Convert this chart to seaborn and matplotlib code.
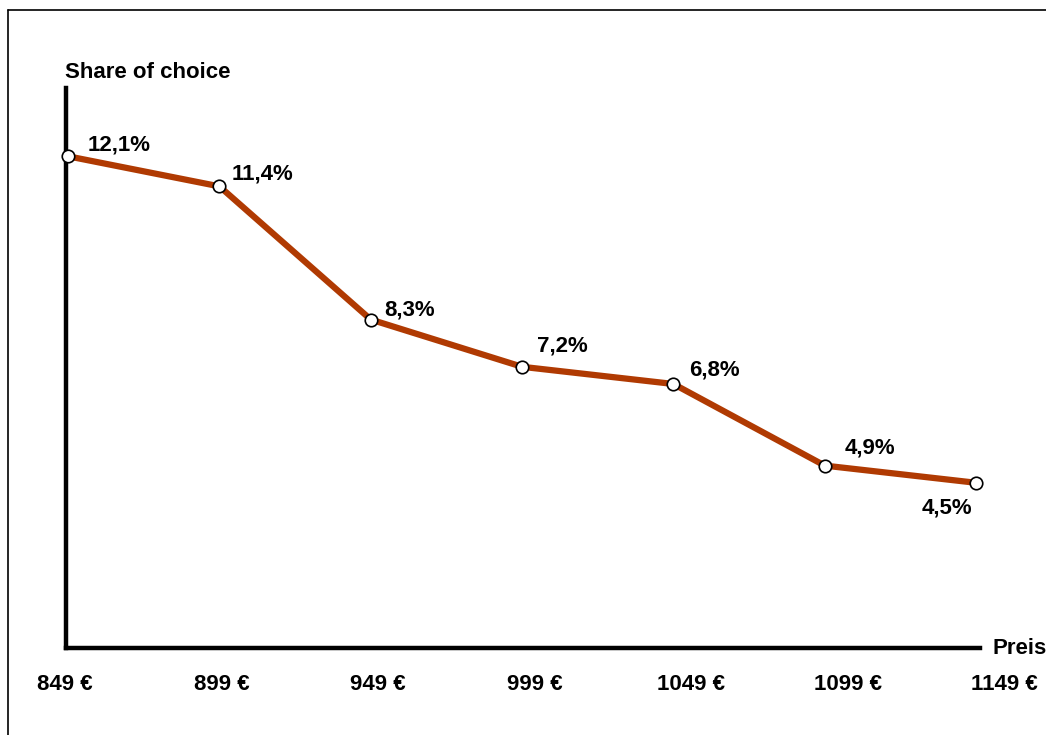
import matplotlib
matplotlib.use("Agg")
import matplotlib.pyplot as plt
from matplotlib.lines import Line2D
import seaborn as sns
import pandas as pd

# data
prices = [849, 899, 949, 999, 1049, 1099, 1149]
price_labels = ["849 €", "899 €", "949 €", "999 €", "1049 €", "1099 €", "1149 €"]
shares = [12.1, 11.4, 8.3, 7.2, 6.8, 4.9, 4.5]
share_labels = ["12,1%", "11,4%", "8,3%", "7,2%", "6,8%", "4,9%", "4,5%"]

LINE_COLOR = "#B03A02"
W, H = 1046, 735
FS = 16

sns.set_theme(style="white")
plt.rcParams["font.family"] = ["Liberation Sans", "DejaVu Sans"]
plt.rcParams["font.weight"] = "bold"
plt.rcParams["text.color"] = "black"
plt.rcParams["xtick.color"] = "black"

fig = plt.figure(figsize=(W / 100, H / 100), dpi=100)
# axes box in pixels: left 66, right 980, top 88, bottom 648
ax = fig.add_axes([66 / W, 1 - 648 / H, (980 - 66) / W, (648 - 88) / H])

df = pd.DataFrame({"price": prices, "share": shares})
sns.lineplot(data=df, x="price", y="share", ax=ax, color=LINE_COLOR, linewidth=4.5,
             marker="o", markersize=9, markerfacecolor="white",
             markeredgecolor="black", markeredgewidth=1.2, zorder=3, clip_on=False)

ax.set_xlim(848.3, 1150.3)
ax.set_ylim(0.654, 13.69)

for s in ["top", "right"]:
    ax.spines[s].set_visible(False)
for s in ["left", "bottom"]:
    ax.spines[s].set_linewidth(3.2)
    ax.spines[s].set_color("black")
    ax.spines[s].set_capstyle("projecting")

ax.set_yticks([])
ax.set_xticks([])
ax.set_xlabel("")
ax.set_ylabel("")

# price labels sit on their own, slightly wider scale (separate invisible axes)
ax2 = fig.add_axes([60 / W, 1 - 648 / H, (1010 - 60) / W, 10 / H])
ax2.patch.set_visible(False)
ax2.set_xticks(prices)
ax2.set_xticklabels(price_labels, fontsize=FS, fontweight="bold", color="black")
ax2.set_xlim(847.4, 1150.9)
ax2.set_yticks([])
ax2.tick_params(axis="x", length=0, pad=19)
for s in ax2.spines.values():
    s.set_visible(False)

# label offsets (points) relative to each marker
offsets = [(14, 8), (9, 9), (10, 7), (11, 15), (11, 10), (14, 13), (-3, -18)]
aligns = ["left", "left", "left", "left", "left", "left", "right"]
for p, v, t, off, ha in zip(prices, shares, share_labels, offsets, aligns):
    ax.annotate(t, (p, v), xytext=off, textcoords="offset points",
                ha=ha, va="center", fontsize=FS, fontweight="bold", color="black")

fig.text(65 / W, 1 - 73 / H, "Share of choice", ha="left", va="center",
         fontsize=FS, fontweight="bold", color="black")
fig.text(993 / W, 1 - 648 / H, "Preis", ha="left", va="center",
         fontsize=FS, fontweight="bold", color="black")

# frame lines (top and left only visible)
fig.add_artist(Line2D([8 / W, 1], [1 - 10 / H, 1 - 10 / H], color="black", lw=1.2,
                      transform=fig.transFigure))
fig.add_artist(Line2D([8 / W, 8 / W], [0, 1 - 10 / H], color="black", lw=1.2,
                      transform=fig.transFigure))

fig.savefig("out.png", dpi=100, facecolor="white")
